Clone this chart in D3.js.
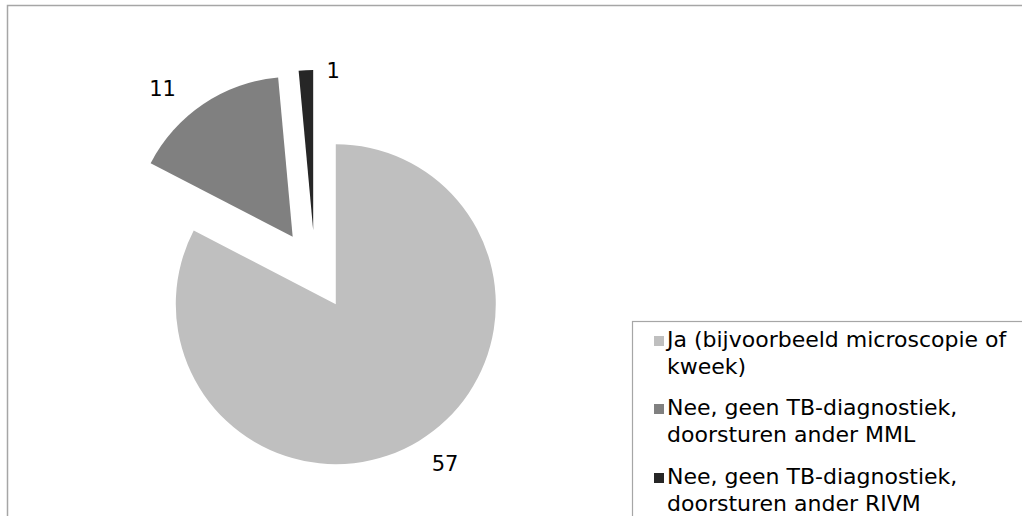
<!DOCTYPE html>
<html>
<head>
<meta charset="utf-8">
<script src="https://cdn.jsdelivr.net/npm/d3@7"></script>
<style>
  html, body { margin: 0; padding: 0; background: #fff; }
  svg { display: block; font-family: "DejaVu Sans", Verdana, sans-serif; }
</style>
</head>
<body>
<svg id="chart" width="1022" height="516"></svg>
<script>
// ---- data ----
const categories = [
  "Ja (bijvoorbeeld microscopie of kweek)",
  "Nee, geen TB-diagnostiek, doorsturen ander MML",
  "Nee, geen TB-diagnostiek, doorsturen ander RIVM"
];
const legendLines = [
  ["Ja (bijvoorbeeld microscopie of", "kweek)"],
  ["Nee, geen TB-diagnostiek,", "doorsturen ander MML"],
  ["Nee, geen TB-diagnostiek,", "doorsturen ander RIVM"]
];
const values = [57, 11, 1];
const colors = ["#bfbfbf", "#808080", "#262626"];
// label nudges (styling only), px
const labelNudge = [[2, -4], [-16, 12], [28, 31]];

// ---- layout ----
const W = 1022, H = 516;
const svg = d3.select("#chart");

// outer chart border
svg.append("rect")
  .attr("x", 7.5).attr("y", 5.5)
  .attr("width", W + 10).attr("height", H + 10)
  .attr("fill", "none").attr("stroke", "#a6a6a6").attr("stroke-width", 1.5);

const cx = 315, cy = 270, R = 160, explode = 40;

const pie = d3.pie().sort(null).value(d => d)
  .startAngle(0).endAngle(2 * Math.PI);
const arcs = pie(values);
const arc = d3.arc().innerRadius(0).outerRadius(R);

const g = svg.append("g").attr("transform", `translate(${cx},${cy})`);

const labelSize = 21;
arcs.forEach((a, i) => {
  const mid = (a.startAngle + a.endAngle) / 2;
  const dx = Math.sin(mid) * explode, dy = -Math.cos(mid) * explode;
  const sg = g.append("g").attr("transform", `translate(${dx},${dy})`);
  sg.append("path").attr("d", arc(a)).attr("fill", colors[i]);

  // label: nearest corner of label box at R+gap along bisector
  const gap = 18;
  const sx = Math.sin(mid), sy = -Math.cos(mid);
  const px = sx * (R + gap), py = sy * (R + gap);
  const txt = String(values[i]);
  const tw = txt.length * labelSize * 0.636 + 3, th = 24;
  const lx = px + (Math.abs(sx) < 0.1 ? 0 : Math.sign(sx) * tw / 2) + labelNudge[i][0];
  const ly = py + Math.sign(sy) * th / 2 + labelNudge[i][1];
  sg.append("text")
    .attr("x", lx).attr("y", ly)
    .attr("text-anchor", "middle")
    .attr("dominant-baseline", "central")
    .attr("font-size", labelSize)
    .attr("fill", "#000")
    .text(txt);
});

// ---- legend ----
const lg = svg.append("g");
lg.append("rect")
  .attr("x", 632.5).attr("y", 321.5)
  .attr("width", 420).attr("height", 220)
  .attr("fill", "#fff").attr("stroke", "#a6a6a6").attr("stroke-width", 1.2);

const itemBase = [347, 415, 484];
legendLines.forEach((lines, i) => {
  const base = itemBase[i];
  lg.append("rect")
    .attr("x", 654).attr("y", base - 11)
    .attr("width", 10).attr("height", 10)
    .attr("fill", colors[i]);
  lines.forEach((ln, j) => {
    lg.append("text")
      .attr("x", 667).attr("y", base + j * 27)
      .attr("font-size", 22)
      .attr("fill", "#000")
      .text(ln);
  });
});
</script>
</body>
</html>
